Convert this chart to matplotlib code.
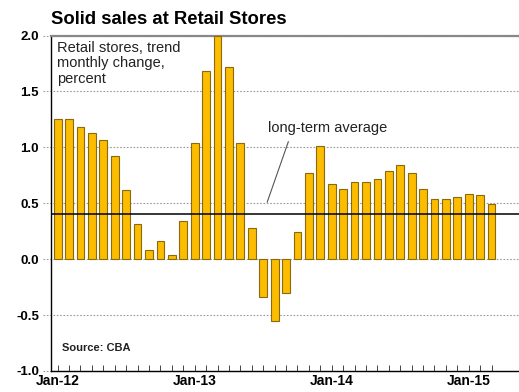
import matplotlib
matplotlib.use("Agg")
import matplotlib.pyplot as plt
import matplotlib.transforms as mtransforms

# Monthly change in trend retail sales, Jan-12 .. Mar-15 (percent)
months = ["Jan-12", "Feb-12", "Mar-12", "Apr-12", "May-12", "Jun-12", "Jul-12", "Aug-12",
          "Sep-12", "Oct-12", "Nov-12", "Dec-12",
          "Jan-13", "Feb-13", "Mar-13", "Apr-13", "May-13", "Jun-13", "Jul-13", "Aug-13",
          "Sep-13", "Oct-13", "Nov-13", "Dec-13",
          "Jan-14", "Feb-14", "Mar-14", "Apr-14", "May-14", "Jun-14", "Jul-14", "Aug-14",
          "Sep-14", "Oct-14", "Nov-14", "Dec-14",
          "Jan-15", "Feb-15", "Mar-15"]
change = [1.25, 1.25, 1.18, 1.13, 1.07, 0.92, 0.62, 0.31, 0.08, 0.16, 0.04, 0.34,
          1.04, 1.68, 2.00, 1.72, 1.04, 0.28, -0.34, -0.55, -0.30, 0.24, 0.77, 1.01,
          0.67, 0.63, 0.69, 0.69, 0.72, 0.79, 0.84, 0.77, 0.63, 0.54, 0.54, 0.56,
          0.58, 0.57, 0.49]
long_term_avg = 0.40
year_labels = ["Jan-12", "Jan-13", "Jan-14", "Jan-15"]
y_ticks = [-1.0, -0.5, 0.0, 0.5, 1.0, 1.5, 2.0]

BAR, EDGE, GRID = "#FCBC00", "#8a6a10", "#9a9a9a"

plt.rcParams.update({"font.family": ["Liberation Sans", "DejaVu Sans"]})
fig = plt.figure(figsize=(5.19, 3.92), dpi=100)
ax = fig.add_axes([0.0992, 0.0536, 0.9008, 0.8558])

x = list(range(len(months)))
ax.bar(x, change, width=0.68, color=BAR, edgecolor=EDGE, linewidth=0.8, zorder=3)
ax.axhline(long_term_avg, color="black", lw=1.1, zorder=4)

ax.set_xlim(-0.54, 40.4)
ax.set_ylim(-1.0, 2.0)

# dotted gridlines that run a little past the left spine
trans = mtransforms.blended_transform_factory(ax.transAxes, ax.transData)
for yv in y_ticks:
    ax.plot([-0.018, 1.0], [yv, yv], transform=trans, color=GRID, lw=0.8,
            ls=(0, (1.5, 1.5)), clip_on=False, zorder=1)

ax.set_yticks(y_ticks)
ax.set_yticklabels([f"{v:.1f}" for v in y_ticks], fontweight="bold", fontsize=9.5)
ax.tick_params(axis="y", length=0, pad=9)

ax.set_xticks(x, minor=True)
ax.set_xticks([months.index(m) for m in year_labels])
ax.set_xticklabels(year_labels, fontweight="bold", fontsize=10)
ax.tick_params(axis="x", which="both", direction="in", length=4, width=0.7,
               color="#444444", pad=2)

ax.spines["right"].set_visible(False)
ax.spines["top"].set_color("#888888")
ax.spines["top"].set_linewidth(1.6)
ax.spines["left"].set_linewidth(1.0)
ax.spines["bottom"].set_linewidth(1.0)

ax.text(0.012, 0.985, "Retail stores, trend\nmonthly change,\npercent",
        transform=ax.transAxes, ha="left", va="top", fontsize=10.5,
        color="#222222", linespacing=1.15)
ax.text(0.022, 0.07, "Source: CBA", transform=ax.transAxes, ha="left",
        va="center", fontsize=8, fontweight="bold", color="#222222")

ax.annotate("long-term average", xy=(18.35, 0.51), xytext=(18.4, 1.17),
            fontsize=10.5, color="#222222", ha="left", va="center")
ax.plot([18.35, 20.2], [0.51, 1.05], color="#555555", lw=0.8, zorder=5)

fig.text(0.0992, 0.95, "Solid sales at Retail Stores", fontsize=13.3,
         fontweight="bold", ha="left", va="center")

fig.savefig("out.png", dpi=100)
